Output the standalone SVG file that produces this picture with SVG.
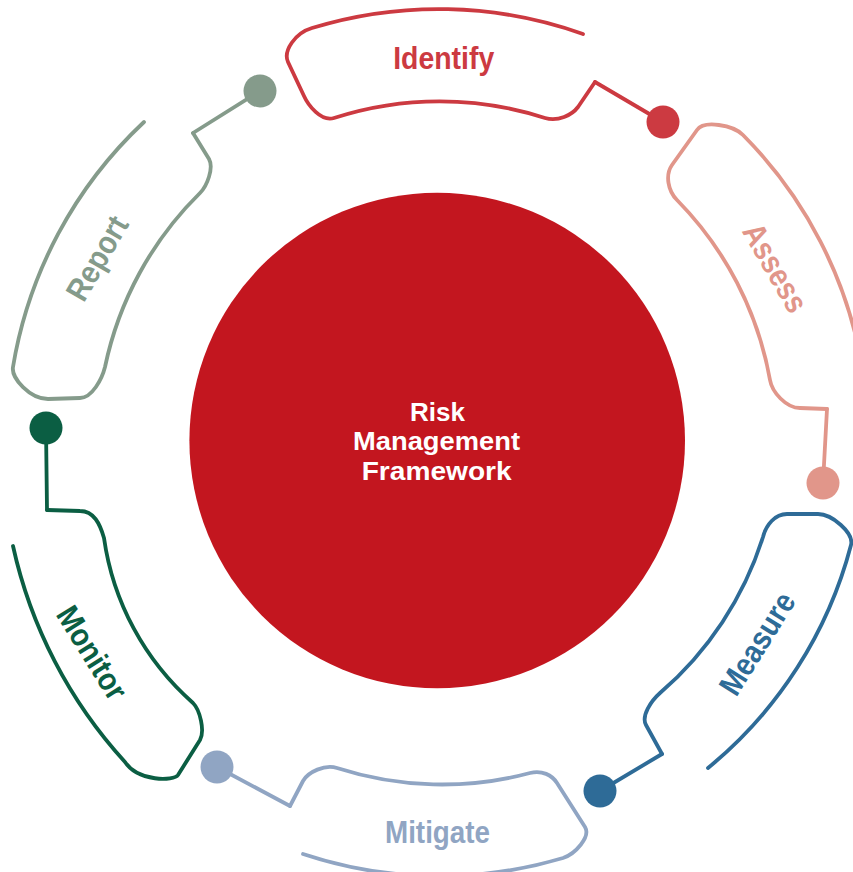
<svg xmlns="http://www.w3.org/2000/svg" width="853" height="872" viewBox="0 0 853 872">
<style>
.seg{fill:none;stroke-width:3.8;stroke-linecap:round;stroke-linejoin:round}
.con{fill:none;stroke-width:3.8;stroke-linecap:round}
.lbl{font-family:"Liberation Sans",Arial,sans-serif;font-weight:bold;font-size:32px;text-anchor:middle}
.ctr{font-family:"Liberation Sans",Arial,sans-serif;font-weight:bold;font-size:26px;fill:#ffffff;text-anchor:middle}
.identify{stroke:#cc3a41}
.assess{stroke:#e1968a}
.measure{stroke:#2e6b97}
.mitigate{stroke:#90a5c3}
.monitor{stroke:#0b5e43}
.report{stroke:#859b8b}
</style>
<rect width="853" height="872" fill="#ffffff"/>

<g id="center">
<circle cx="437.2" cy="440.5" r="247.8" fill="#c3161f"/>
<text class="ctr" x="437.5" y="420.5" textLength="55" lengthAdjust="spacingAndGlyphs">Risk</text>
<text class="ctr" x="436.5" y="450" textLength="167" lengthAdjust="spacingAndGlyphs">Management</text>
<text class="ctr" x="436.7" y="479.5" textLength="150" lengthAdjust="spacingAndGlyphs">Framework</text>
</g>

<g id="identify">
<path class="seg identify" d="M 583,34 A 431 431 0 0 0 312,28 C 295,33 283,51 288,62 L 304,96 C 308,105 321,122 334,118 A 342 342 0 0 1 545,118 C 558,122 572,115 578,107 L 595,82"/>
<text class="lbl" x="443.7" y="69" fill="#cc3a41" textLength="101" lengthAdjust="spacingAndGlyphs">Identify</text>
</g>

<g id="assess">
<path class="seg assess" d="M 862,366 A 431 431 0 0 0 743,135 C 733,125 704,120 697,130 L 672,165 C 665,175 668,191 677,200 A 342 342 0 0 1 770,380 C 772,392 786,408 800,408 L 827,409"/>
<text class="lbl" transform="translate(775.8,267.5) rotate(60)" x="0" y="11.5" fill="#e1968a" textLength="97" lengthAdjust="spacingAndGlyphs">Assess</text>
</g>

<g id="measure">
<path class="seg measure" d="M 708,768 A 428 428 0 0 0 851,545 C 854,533 832,514 818,514 L 787,514 C 775,514 766,525 763,537 A 342 342 0 0 1 660,693 C 651,701 641,716 646,725 L 662,754"/>
<text class="lbl" transform="translate(756.7,643.3) rotate(-58)" x="0" y="11.5" fill="#2e6b97" textLength="114" lengthAdjust="spacingAndGlyphs">Measure</text>
</g>

<g id="mitigate">
<path class="seg mitigate" d="M 303,854 A 432 432 0 0 0 563,858 C 575,854 591,837 585,827 L 557,783 C 552,775 542,770 530,773 A 342 342 0 0 1 337,768 C 325,764 308,772 303,781 L 290,806"/>
<text class="lbl" x="437.5" y="842.7" fill="#90a5c3" textLength="105" lengthAdjust="spacingAndGlyphs">Mitigate</text>
</g>

<g id="monitor">
<path class="seg monitor" d="M 13,546 A 470 470 0 0 0 125,762 C 138,782 174,781 178,775 L 200,740 C 205,731 200,710 193,703 A 270 270 0 0 1 104,538 C 100,524 94,511 80,511 L 47,510"/>
<text class="lbl" transform="translate(92.5,652.5) rotate(58)" x="0" y="11.5" fill="#0b5e43" textLength="104" lengthAdjust="spacingAndGlyphs">Monitor</text>
</g>

<g id="report">
<path class="seg report" d="M 144,122 A 432 432 0 0 0 13,367 C 11,378 30,399 48,399 L 80,398 C 92,398 102,379 105,367 A 342 342 0 0 1 200,193 C 207,186 214,168 209,159 L 193,133"/>
<text class="lbl" transform="translate(96.7,258) rotate(-60)" x="0" y="11.5" fill="#859b8b" textLength="92" lengthAdjust="spacingAndGlyphs">Report</text>
</g>

<g id="connectors">
<path class="con identify" d="M 595,82 L 663,122"/>
<path class="con assess" d="M 827,409 L 823,483"/>
<path class="con measure" d="M 662,754 L 600,791"/>
<path class="con mitigate" d="M 290,806 L 217,767"/>
<path class="con monitor" d="M 47,510 L 46,428"/>
<path class="con report" d="M 193,133 L 260,91"/>
<circle cx="663" cy="122" r="16.5" fill="#cc3a41"/>
<circle cx="823" cy="483" r="16.5" fill="#e1968a"/>
<circle cx="600" cy="791" r="16.5" fill="#2e6b97"/>
<circle cx="217" cy="767" r="16.5" fill="#90a5c3"/>
<circle cx="46" cy="428" r="16.5" fill="#0b5e43"/>
<circle cx="260" cy="91" r="16.5" fill="#859b8b"/>
</g>
</svg>
